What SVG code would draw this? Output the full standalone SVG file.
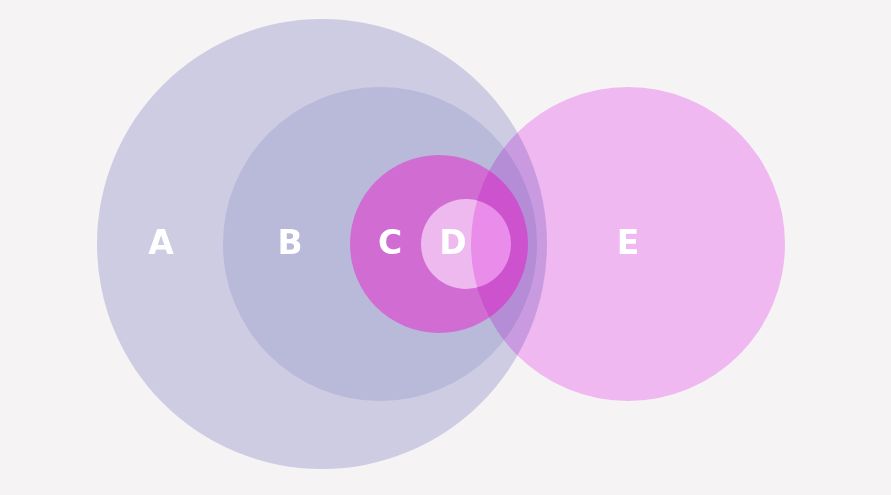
<svg xmlns="http://www.w3.org/2000/svg" width="891" height="495" viewBox="0 0 891 495">
<style>
.lbl{font-family:"DejaVu Sans","Open Sans",sans-serif;font-weight:bold;font-size:33px;fill:#ffffff;text-anchor:middle}
.purple{fill:#a6a5d2;fill-opacity:0.5}
</style>
<rect width="891" height="495" fill="#f5f3f4"/>
<g id="A"><circle class="purple" cx="322" cy="244" r="225"/></g>
<g id="B"><circle class="purple" cx="380" cy="244" r="157"/></g>
<g id="C"><circle cx="439" cy="244" r="89" fill="#d16cd2"/></g>
<g id="D"><circle cx="466" cy="244" r="45" fill="#eeb9ee"/></g>
<g id="E"><circle cx="628" cy="244" r="157" fill="#fac1fb" style="mix-blend-mode:multiply"/></g>
<g id="labels">
<text class="lbl" x="161" y="254">A</text>
<text class="lbl" x="290" y="254">B</text>
<text class="lbl" x="390" y="254">C</text>
<text class="lbl" x="453" y="254">D</text>
<text class="lbl" x="628" y="254">E</text>
</g>
</svg>
